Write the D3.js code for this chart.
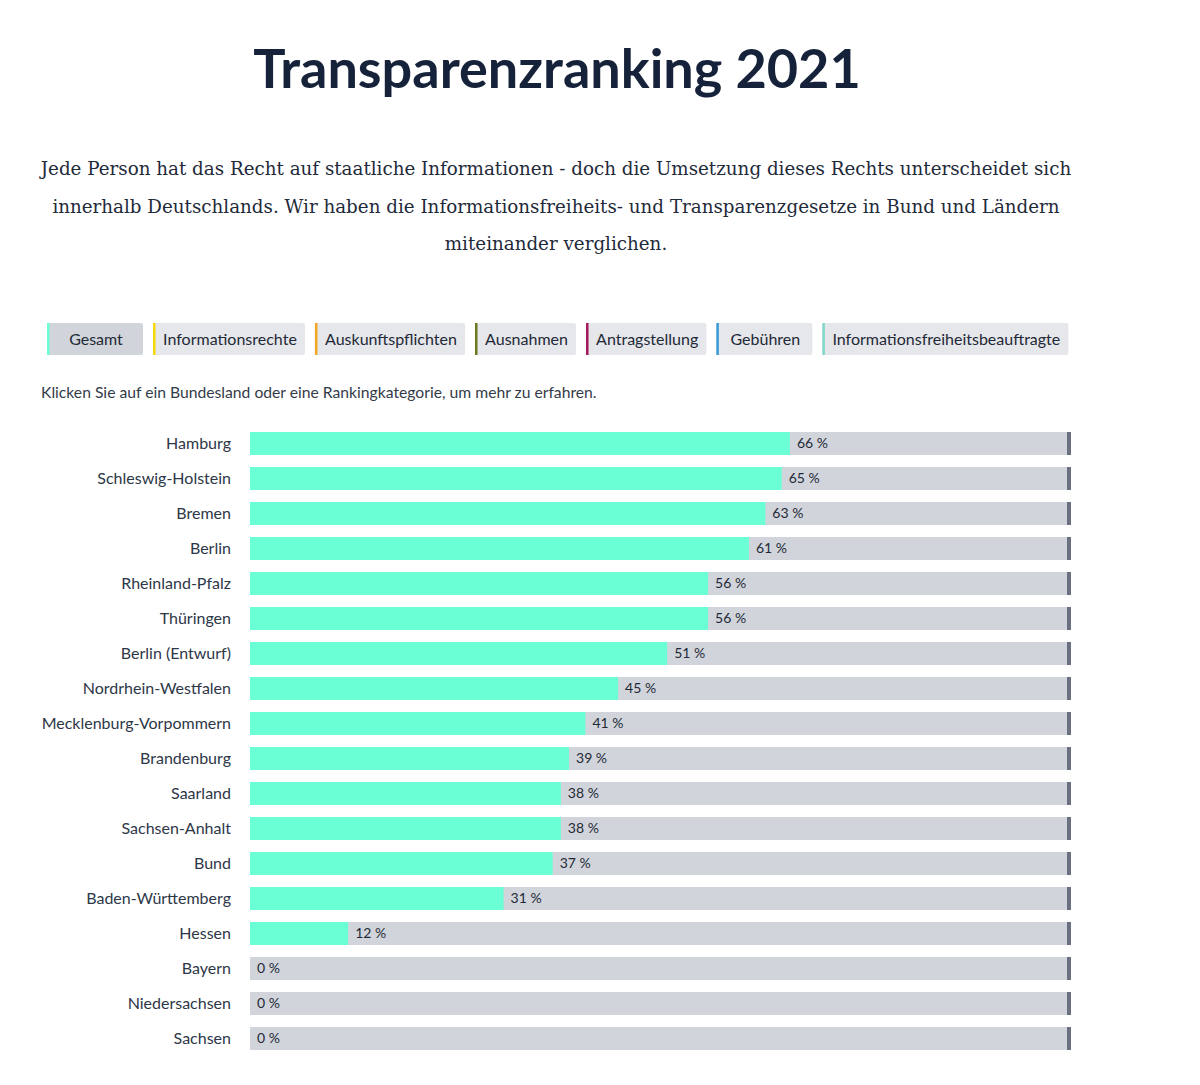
<!DOCTYPE html>
<html><head><meta charset="utf-8">
<script src="https://cdn.jsdelivr.net/npm/d3@7"></script>
<style>
html,body{margin:0;padding:0;background:#fff;}
svg text{font-family:"Lato","Open Sans",sans-serif;}
</style></head>
<body><svg id="c" width="1200" height="1085"></svg>
<script>
const title = "Transparenzranking 2021";
const introLines = [
  "Jede Person hat das Recht auf staatliche Informationen - doch die Umsetzung dieses Rechts unterscheidet sich",
  "innerhalb Deutschlands. Wir haben die Informationsfreiheits- und Transparenzgesetze in Bund und Ländern",
  "miteinander verglichen."
];
const hint = "Klicken Sie auf ein Bundesland oder eine Rankingkategorie, um mehr zu erfahren.";
const legendNames = ["Gesamt","Informationsrechte","Auskunftspflichten","Ausnahmen","Antragstellung","Gebühren","Informationsfreiheitsbeauftragte"];
const legendColors = ["#6affd5","#f5d90a","#f5a524","#6b7a1f","#a3195b","#3a9ad9","#7fd8c8"];
const states = ["Hamburg","Schleswig-Holstein","Bremen","Berlin","Rheinland-Pfalz","Thüringen","Berlin (Entwurf)","Nordrhein-Westfalen","Mecklenburg-Vorpommern","Brandenburg","Saarland","Sachsen-Anhalt","Bund","Baden-Württemberg","Hessen","Bayern","Niedersachsen","Sachsen"];
const values = [66,65,63,61,56,56,51,45,41,39,38,38,37,31,12,0,0,0];

const svg = d3.select("#c");

svg.append("text").attr("x",557).attr("y",88).attr("text-anchor","middle")
  .style("font-size","54px").style("font-weight","700").attr("fill","#15223a").text(title);

svg.selectAll("text.intro").data(introLines).join("text").attr("class","intro")
  .attr("x",556).attr("y",(d,i)=>175+i*37.5).attr("text-anchor","middle")
  .style("font-family","'DejaVu Serif','Liberation Serif',serif").style("font-size","18.3px")
  .attr("fill","#1f2a3a").text(d=>d);

// legend buttons
let lx = 47;
const lg = svg.append("g");
legendNames.forEach((name,i)=>{
  const g = lg.append("g");
  const t = g.append("text").attr("y",345).style("font-size","16px").attr("fill","#1f2937").text(name);
  const w = Math.max(96, t.node().getComputedTextLength()+18.2);
  g.insert("rect","text").attr("x",lx).attr("y",323).attr("width",w).attr("height",32).attr("rx",2)
    .attr("fill", i===0 ? "#d1d5db" : "#e5e7eb");
  g.insert("rect","text").attr("x",lx).attr("y",323).attr("width",2.5).attr("height",32).attr("fill",legendColors[i]);
  t.attr("x",lx+w/2+1).attr("text-anchor","middle");
  lx += w + 10;
});

svg.append("text").attr("x",41).attr("y",398).style("font-size","15.7px").attr("fill","#333b48").text(hint);

const x = d3.scaleLinear().domain([0,100]).range([250,1068]);
const y = d3.scaleBand().domain(states).range([426,1056]).paddingInner(12/35).paddingOuter(6/35);

const rows = svg.selectAll("g.row").data(states).join("g").attr("class","row");
rows.append("rect").attr("x",x(0)).attr("y",d=>y(d)).attr("width",x(100)-x(0)).attr("height",y.bandwidth()).attr("fill","#d1d5db");
rows.append("rect").attr("x",x(100)-1).attr("y",d=>y(d)).attr("width",4).attr("height",y.bandwidth()).attr("fill","#6b7080");
rows.append("rect").attr("x",x(0)).attr("y",d=>y(d)).attr("width",(d,i)=>x(values[i])-x(0)).attr("height",y.bandwidth()).attr("fill","#6affd5");
rows.append("text").attr("x",(d,i)=>x(values[i])+7).attr("y",d=>y(d)+y.bandwidth()/2).attr("dy","0.35em")
  .style("font-size","14px").attr("fill","#1f2937").text((d,i)=>values[i]+" %");
rows.append("text").attr("x",231).attr("y",d=>y(d)+y.bandwidth()/2).attr("dy","0.35em").attr("text-anchor","end")
  .style("font-size","16px").attr("fill","#2d3748").text(d=>d);
</script></body></html>
